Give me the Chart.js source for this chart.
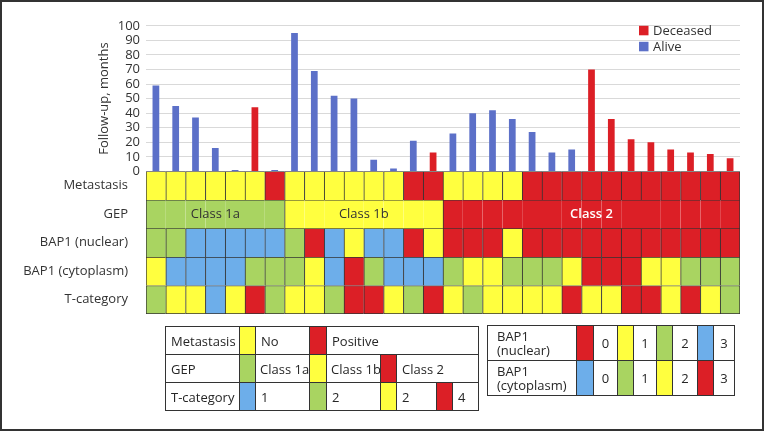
<!DOCTYPE html>
<html>
<head>
<meta charset="utf-8">
<script src="https://cdn.jsdelivr.net/npm/chart.js@4.4.1/dist/chart.umd.min.js"></script>
<style>
  html, body { margin: 0; padding: 0; background: #fff; }
  #wrap { position: relative; width: 764px; height: 431px; font-family: "Open Sans", sans-serif; color: #262626; }
  #frame { position: absolute; left: 0; top: 0; width: 764px; height: 431px; box-sizing: border-box; border: 2px solid #333; pointer-events: none; }
  canvas { position: absolute; left: 0; top: 0; }
  table.key { position: absolute; border-collapse: collapse; table-layout: fixed; font-size: 13px; color: #262626; }
  table.key td { border: 1px solid #333; padding: 0 0 0 5px; white-space: nowrap; height: 28px; box-sizing: border-box; }
  table.key td.sw { padding: 0; }
  table.k2 td { height: 35px; line-height: 14px; }
  table.k2 td.lbl { padding-left: 9px; }
  table.k2 td.c { padding: 0; text-align: center; }
  .Y { background: #FFFF3F; }
  .R { background: #DC1F26; }
  .G { background: #A9D461; }
  .B { background: #6DAEEA; }
</style>
</head>
<body>
<div id="wrap">
  <canvas id="chart" width="764" height="431"></canvas>

  <table class="key" style="left:165px; top:326px; width:313px;">
    <colgroup><col style="width:74px"><col style="width:16px"><col style="width:54px"><col style="width:17px"><col style="width:54px"><col style="width:16px"><col style="width:40px"><col style="width:16px"><col style="width:26px"></colgroup>
    <tr><td>Metastasis</td><td class="sw Y"></td><td>No</td><td class="sw R"></td><td colspan="5">Positive</td></tr>
    <tr><td>GEP</td><td class="sw G"></td><td style="padding-left:4px">Class 1a</td><td class="sw Y"></td><td style="padding-left:4px">Class 1b</td><td class="sw R"></td><td colspan="3">Class 2</td></tr>
    <tr><td>T-category</td><td class="sw B"></td><td>1</td><td class="sw G"></td><td>2</td><td class="sw Y"></td><td>2</td><td class="sw R"></td><td>4</td></tr>
  </table>

  <table class="key k2" style="left:487px; top:325px; width:247px;">
    <colgroup><col style="width:89px"><col style="width:17px"><col style="width:24px"><col style="width:16px"><col style="width:23px"><col style="width:16px"><col style="width:25px"><col style="width:16px"><col style="width:21px"></colgroup>
    <tr><td class="lbl">BAP1<br>(nuclear)</td><td class="sw R"></td><td class="c">0</td><td class="sw Y"></td><td class="c">1</td><td class="sw G"></td><td class="c">2</td><td class="sw B"></td><td class="c">3</td></tr>
    <tr><td class="lbl">BAP1<br>(cytoplasm)</td><td class="sw B"></td><td class="c">0</td><td class="sw G"></td><td class="c">1</td><td class="sw Y"></td><td class="c">2</td><td class="sw R"></td><td class="c">3</td></tr>
  </table>

  <div id="frame"></div>
</div>

<script>
// one column per patient
const patients = ['1', '2', '3', '4', '5', '6', '7', '8', '9', '10', '11', '12', '13', '14', '15',
  '16', '17', '18', '19', '20', '21', '22', '23', '24', '25', '26', '27', '28', '29', '30'];

const followUp = [59, 45, 37, 16, 1, 44, 1, 95, 69, 52, 50, 8, 2, 21, 13,
  26, 40, 42, 36, 27, 13, 15, 70, 36, 22, 20, 15, 13, 12, 9];

const vitalStatus = ['Alive', 'Alive', 'Alive', 'Alive', 'Alive', 'Deceased', 'Alive',
  'Alive', 'Alive', 'Alive', 'Alive', 'Alive', 'Alive', 'Alive', 'Deceased',
  'Alive', 'Alive', 'Alive', 'Alive', 'Alive', 'Alive', 'Alive',
  'Deceased', 'Deceased', 'Deceased', 'Deceased', 'Deceased', 'Deceased', 'Deceased', 'Deceased'];

const rowLabels = ['Metastasis', 'GEP', 'BAP1 (nuclear)', 'BAP1 (cytoplasm)', 'T-category'];

const metastasis = ['No', 'No', 'No', 'No', 'No', 'No', 'Positive',
  'No', 'No', 'No', 'No', 'No', 'No', 'Positive', 'Positive',
  'No', 'No', 'No', 'No', 'Positive', 'Positive', 'Positive', 'Positive', 'Positive',
  'Positive', 'Positive', 'Positive', 'Positive', 'Positive', 'Positive'];

const gep = ['Class 1a', 'Class 1a', 'Class 1a', 'Class 1a', 'Class 1a', 'Class 1a', 'Class 1a',
  'Class 1b', 'Class 1b', 'Class 1b', 'Class 1b', 'Class 1b', 'Class 1b', 'Class 1b', 'Class 1b',
  'Class 2', 'Class 2', 'Class 2', 'Class 2', 'Class 2', 'Class 2', 'Class 2', 'Class 2',
  'Class 2', 'Class 2', 'Class 2', 'Class 2', 'Class 2', 'Class 2', 'Class 2'];

const bap1Nuclear = [2, 2, 3, 3, 3, 3, 3, 2, 0, 3, 1, 3, 3, 0, 1,
  0, 0, 0, 1, 0, 0, 0, 0, 0, 0, 0, 0, 0, 0, 0];

const bap1Cytoplasm = [2, 0, 0, 0, 0, 1, 1, 1, 2, 0, 3, 1, 0, 0, 0,
  1, 2, 2, 1, 1, 1, 2, 3, 3, 3, 2, 2, 1, 1, 1];

const tCategory = [2, 3, 3, 1, 3, 4, 2, 3, 3, 2, 4, 4, 3, 2, 4,
  3, 2, 3, 3, 3, 3, 4, 3, 3, 4, 4, 3, 4, 3, 2];

const YELLOW = '#FFFF3F';
const RED = '#DC1F26';
const GREEN = '#A9D461';
const BLUE = '#6DAEEA';
const BAR_BLUE = '#5C70C8';
const CELL_LINE = '#333';

const metastasisColors = { 'No': YELLOW, 'Positive': RED };
const gepColors = { 'Class 1a': GREEN, 'Class 1b': YELLOW, 'Class 2': RED };
const nuclearColors = [RED, YELLOW, GREEN, BLUE];
const cytoplasmColors = [BLUE, GREEN, YELLOW, RED];
const tColors = { 1: BLUE, 2: GREEN, 3: YELLOW, 4: RED };

const tracks = [
  { values: metastasis, colors: metastasisColors },
  { values: gep, colors: gepColors, merge: true },
  { values: bap1Nuclear, colors: nuclearColors },
  { values: bap1Cytoplasm, colors: cytoplasmColors },
  { values: tCategory, colors: tColors },
];

Chart.defaults.font.family = '"Open Sans", sans-serif';
Chart.defaults.font.size = 13;
Chart.defaults.color = '#333';

// shared cell edges drawn once; merged GEP cells lose inner edges
function cellBorder(ctx, track, row) {
  const i = ctx.dataIndex;
  const n = track.values.length;
  const w = { top: 1, left: 1, right: i === n - 1 ? 1 : 0, bottom: row === tracks.length - 1 ? 1 : 0 };
  if (track.merge && i > 0 && track.values[i - 1] === track.values[i]) w.left = 0;
  return w;
}

const trackDatasets = tracks.map((t, r) => ({
  label: rowLabels[r],
  yAxisID: 'yTrack',
  data: t.values.map(() => [r, r + 1]),
  backgroundColor: t.values.map(v => t.colors[v]),
  borderColor: CELL_LINE,
  borderSkipped: false,
  borderWidth: ctx => cellBorder(ctx, t, r),
  grouped: false,
  barPercentage: 1,
  categoryPercentage: 1,
}));

const barDatasets = [
  {
    label: 'Deceased',
    yAxisID: 'y',
    data: followUp.map((v, i) => vitalStatus[i] === 'Deceased' ? v : null),
    backgroundColor: RED,
    grouped: false,
    barPercentage: 0.34,
    categoryPercentage: 1,
  },
  {
    label: 'Alive',
    yAxisID: 'y',
    data: followUp.map((v, i) => vitalStatus[i] === 'Alive' ? v : null),
    backgroundColor: BAR_BLUE,
    grouped: false,
    barPercentage: 0.34,
    categoryPercentage: 1,
  },
];

const statusKey = {
  id: 'statusKey',
  afterDraw(chart) {
    const { ctx, chartArea } = chart;
    ctx.save();
    ctx.font = '13px "Open Sans"';
    ctx.textBaseline = 'middle';
    ctx.textAlign = 'left';
    barDatasets.forEach((ds, i) => {
      const x = chartArea.right - 101;
      const y = chartArea.top + i * 16;
      ctx.fillStyle = ds.backgroundColor;
      ctx.fillRect(x, y, 9.5, 9.5);
      ctx.fillStyle = '#333';
      ctx.fillText(ds.label, x + 14, y + 5);
    });
    ctx.restore();
  }
};

const gepLabels = {
  id: 'gepLabels',
  afterDatasetsDraw(chart) {
    const { ctx, scales: { x, yTrack } } = chart;
    const row = rowLabels.indexOf('GEP');
    let start = 0;
    for (let i = 1; i <= gep.length; i++) {
      if (i === gep.length || gep[i] !== gep[start]) {
        const cls = gep[start];
        const cx = (x.getPixelForValue(start) + x.getPixelForValue(i - 1)) / 2;
        const cy = yTrack.getPixelForValue(row + 0.5);
        ctx.save();
        ctx.font = (cls === 'Class 2' ? '600 ' : '') + '13px "Open Sans"';
        ctx.fillStyle = cls === 'Class 2' ? '#fff' : '#333';
        ctx.textAlign = 'center';
        ctx.textBaseline = 'middle';
        ctx.fillText(cls, cx, cy);
        ctx.restore();
        start = i;
      }
    }
  }
};

new Chart(document.getElementById('chart'), {
  type: 'bar',
  data: {
    labels: patients,
    datasets: [...barDatasets, ...trackDatasets],
  },
  options: {
    responsive: false,
    animation: false,
    layout: { padding: { left: 0, right: 24, top: 25, bottom: 117 } },
    plugins: {
      legend: { display: false },
      tooltip: { enabled: false },
    },
    scales: {
      x: { display: false },
      y: {
        position: 'left',
        stack: 'left',
        stackWeight: 146,
        weight: 1,
        min: 0,
        max: 100,
        ticks: { stepSize: 10, padding: 6, autoSkip: false },
        grid: { color: '#D9D9D9', drawTicks: false },
        border: { display: false },
        title: { display: true, text: 'Follow-up, months', padding: { top: 96, bottom: 0 } },
        afterFit: s => { s.width = 146; },
      },
      yTrack: {
        type: 'linear',
        position: 'left',
        stack: 'left',
        stackWeight: 143,
        weight: 0,
        min: 0,
        max: 5,
        reverse: true,
        afterBuildTicks: s => { s.ticks = rowLabels.map((_, i) => ({ value: i + 0.5 })); },
        ticks: { callback: (v, i) => rowLabels[i], padding: 18, autoSkip: false },
        grid: { display: false, drawTicks: false },
        border: { display: false },
        afterFit: s => { s.width = 146; },
      },
    },
  },
  plugins: [statusKey, gepLabels],
});
</script>
</body>
</html>
